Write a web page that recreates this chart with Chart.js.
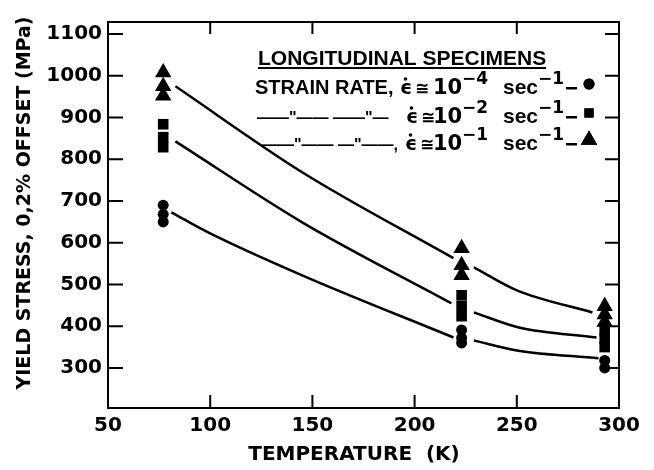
<!DOCTYPE html>
<html>
<head>
<meta charset="utf-8">
<script src="https://cdn.jsdelivr.net/npm/chart.js@4.4.1/dist/chart.umd.min.js"></script>
<style>
  html, body { margin: 0; padding: 0; background: #fff; }
  #wrap { position: relative; width: 654px; height: 470px; }
</style>
</head>
<body>
<div id="wrap"><canvas id="chart"></canvas></div>
<script>
const X_TICKS = [50, 100, 150, 200, 250, 300];
const Y_TICKS = [300, 400, 500, 600, 700, 800, 900, 1000, 1100];

// measured points, strain rate 1e-4 / 1e-2 / 1e-1
const circleTemps = [77, 77, 77, 223, 223, 223, 293, 293];
const circleStress = [690, 668, 650, 391, 372, 360, 318, 300];
const squareTemps = [77, 77, 77, 223, 223, 223, 293, 293, 293];
const squareStress = [884, 853, 829, 474, 448, 424, 390, 370, 350];
const triangleTemps = [77, 77, 77, 223, 223, 223, 293, 293, 293];
const triangleStress = [1008, 975, 952, 587, 546, 522, 448, 428, 410];

// fitted curves (null = break around the 223 K points)
const slowCurveTemps = [81, 99, 145, 219, 224, 229, 250, 290];
const slowCurveStress = [673, 625, 522, 373, null, 366, 342, 323];
const midCurveTemps = [83, 145, 218, 224, 229, 251, 289];
const midCurveStress = [843, 649, 455, null, 433, 397, 373];
const fastCurveTemps = [83, 145, 219, 224, 229, 250, 287];
const fastCurveStress = [975, 769, 563, null, 541, 486, 433];

const legendTitle = "LONGITUDINAL SPECIMENS";
const legendPrefixes = ["STRAIN RATE,", "——\"—— ——\"—", "——\"—— —\"——,"];
const legendExponents = ["−4", "−2", "−1"];
const legendMarkers = ["circle", "rect", "triangle"];

const X_TITLE = "TEMPERATURE  (K)";
const Y_TITLE = "YIELD STRESS, 0,2% OFFSET (MPa)";

const INK = "#000";
const TICK_FONT = { family: "DejaVu Sans", size: 20, weight: "bold" };

const toPoints = (xs, ys) => xs.map((x, i) => ({ x, y: ys[i] }));

function curveDataset(xs, ys) {
  return {
    type: "line",
    data: toPoints(xs, ys),
    borderColor: INK,
    borderWidth: 2.5,
    pointRadius: 0,
    spanGaps: false,
    cubicInterpolationMode: "monotone",
    fill: false,
  };
}

function markerDataset(xs, ys, style, radius) {
  return {
    type: "scatter",
    data: toPoints(xs, ys),
    pointStyle: style,
    pointRadius: radius,
    pointBackgroundColor: INK,
    pointBorderColor: INK,
    pointBorderWidth: 0,
  };
}

function drawSup(ctx, text, x, y) {
  ctx.font = "bold 17px 'DejaVu Sans'";
  ctx.fillText(text, x, y);
}

const framePlugin = {
  id: "frameAndNotes",
  afterDraw(chart) {
    const { ctx, chartArea: a, scales } = chart;
    ctx.save();
    ctx.strokeStyle = INK;
    ctx.fillStyle = INK;
    ctx.lineWidth = 2;
    ctx.strokeRect(a.left, a.top, a.right - a.left, a.bottom - a.top);

    // inward ticks on all four sides
    ctx.beginPath();
    X_TICKS.forEach((v) => {
      const px = scales.x.getPixelForValue(v);
      ctx.moveTo(px, a.bottom);
      ctx.lineTo(px, a.bottom - 13);
      ctx.moveTo(px, a.top);
      ctx.lineTo(px, a.top + 12);
    });
    Y_TICKS.forEach((v) => {
      const py = scales.y.getPixelForValue(v);
      ctx.moveTo(a.left, py);
      ctx.lineTo(a.left + 15, py);
      ctx.moveTo(a.right, py);
      ctx.lineTo(a.right - 14, py);
    });
    ctx.stroke();

    // axis titles
    ctx.textBaseline = "middle";
    ctx.textAlign = "center";
    ctx.font = "bold 20px 'DejaVu Sans'";
    ctx.fillText(X_TITLE, 354, 455);
    ctx.save();
    ctx.translate(25, 203);
    ctx.rotate(-Math.PI / 2);
    ctx.font = "bold 19px 'DejaVu Sans'";
    ctx.fillText(Y_TITLE, 0, 0);
    ctx.restore();

    // legend note
    ctx.textAlign = "left";
    ctx.textBaseline = "alphabetic";
    ctx.font = "bold 21px 'Liberation Sans'";
    ctx.fillText(legendTitle, 258, 65);
    const w = ctx.measureText(legendTitle).width;
    ctx.fillRect(258, 67, w, 2);

    const baselines = [94, 123, 150];
    const prefixX = [255, 257, 262];
    const epsX = [400, 406, 405];
    legendPrefixes.forEach((prefix, i) => {
      const yb = baselines[i];
      ctx.font = i === 0 ? "bold 20px 'Liberation Sans'" : "bold 16px 'Liberation Sans'";
      ctx.fillText(prefix, prefixX[i], yb);
      ctx.font = "bold 19px 'DejaVu Sans'";
      ctx.fillText("ϵ", epsX[i], yb);
      ctx.beginPath();
      ctx.arc(epsX[i] + 5.5, yb - 15, 1.8, 0, Math.PI * 2);
      ctx.fill();
      ctx.font = "bold 17px 'DejaVu Sans'";
      ctx.fillText("≅", epsX[i] + 15, yb);
      ctx.font = "bold 21px 'DejaVu Sans'";
      ctx.fillText("10", 433, yb);
      drawSup(ctx, legendExponents[i], 462, yb - 10);
      ctx.font = "bold 21px 'Liberation Sans'";
      ctx.fillText("sec", 503, yb);
      drawSup(ctx, "−1", 538, yb - 10);
      ctx.fillRect(566, yb - 7, 11, 2.5);
      const r = legendMarkers[i] === "triangle" ? 9.5 : legendMarkers[i] === "rect" ? 6.5 : 5.5;
      ctx.beginPath();
      Chart.helpers.drawPoint(ctx, { pointStyle: legendMarkers[i], radius: r, borderWidth: 0 }, 589, yb - 10);
      ctx.fill();
    });
    ctx.restore();
  },
};

new Chart(document.getElementById("chart"), {
  data: {
    datasets: [
      curveDataset(slowCurveTemps, slowCurveStress),
      curveDataset(midCurveTemps, midCurveStress),
      curveDataset(fastCurveTemps, fastCurveStress),
      markerDataset(circleTemps, circleStress, "circle", 5.5),
      markerDataset(squareTemps, squareStress, "rect", 7.5),
      markerDataset(triangleTemps, triangleStress, "triangle", 9.5),
    ],
  },
  options: {
    responsive: true,
    maintainAspectRatio: false,
    animation: false,
    layout: { padding: { left: 0, top: 22, right: 35, bottom: 0 } },
    plugins: { legend: { display: false }, tooltip: { enabled: false } },
    scales: {
      x: {
        type: "linear",
        min: 50,
        max: 300,
        afterBuildTicks: (s) => { s.ticks = X_TICKS.map((value) => ({ value })); },
        afterFit: (s) => { s.height = 62; },
        grid: { display: false, drawTicks: false },
        border: { display: false },
        ticks: { color: INK, font: TICK_FONT, padding: 6, maxRotation: 0, callback: (v) => String(v) },
      },
      y: {
        type: "linear",
        min: 204,
        max: 1129,
        afterBuildTicks: (s) => { s.ticks = Y_TICKS.map((value) => ({ value })); },
        afterFit: (s) => { s.width = 108; },
        grid: { display: false, drawTicks: false },
        border: { display: false },
        ticks: { color: INK, font: TICK_FONT, padding: 6, callback: (v) => String(v) },
      },
    },
  },
  plugins: [framePlugin],
});
</script>
</body>
</html>
